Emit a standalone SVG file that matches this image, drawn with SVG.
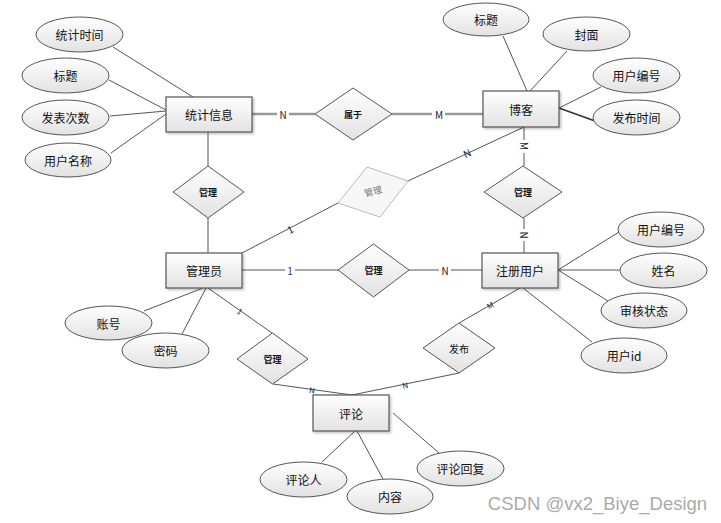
<svg xmlns="http://www.w3.org/2000/svg" width="721" height="523" viewBox="0 0 721 523">
<defs>
<linearGradient id="g" x1="0" y1="0" x2="0" y2="1">
<stop offset="0" stop-color="#ffffff"/>
<stop offset="1" stop-color="#e2e2e2"/>
</linearGradient>
<filter id="sh" x="-10%" y="-10%" width="130%" height="140%">
<feDropShadow dx="1.5" dy="1.5" stdDeviation="1" flood-color="#000" flood-opacity="0.25"/>
</filter>
</defs>
<style>
.ent rect{fill:url(#g);stroke:#555;stroke-width:1.2;filter:url(#sh)}
.att ellipse{fill:url(#g);stroke:#555;stroke-width:1}
.rel polygon{fill:url(#g);stroke:#555;stroke-width:1}
text{font-family:"Noto Sans CJK SC","Liberation Sans",sans-serif;fill:#111;text-anchor:middle;dominant-baseline:central}
.t{font-size:12px}
.r{font-size:9px;font-weight:bold}
.l{font-size:10px;fill:#222}
.c line,.c polyline{stroke:#555;stroke-width:1;fill:none}
.c .thick{stroke:#999;stroke-width:2.5}
</style>
<rect width="721" height="523" fill="#fff"/>
<g id="connectors" class="c">
<line x1="113" y1="47" x2="193" y2="97"/>
<line x1="109" y1="80" x2="166" y2="110"/>
<line x1="110" y1="116" x2="166" y2="111"/>
<line x1="111" y1="153" x2="166" y2="114"/>
<line class="thick" x1="252" y1="114" x2="315" y2="114"/>
<line class="thick" x1="392" y1="114" x2="483" y2="114"/>
<line x1="208" y1="132" x2="208" y2="166"/>
<line x1="208" y1="218" x2="208" y2="253"/>
<line x1="503" y1="36" x2="527" y2="91"/>
<line x1="567" y1="51" x2="530" y2="91"/>
<line x1="601" y1="87" x2="559" y2="108"/>
<line x1="559" y1="108" x2="595" y2="121" style="stroke-width:1.5;stroke:#333"/>
<line x1="524" y1="127" x2="524" y2="166"/>
<line x1="524" y1="218" x2="524" y2="253"/>
<line x1="524" y1="127" x2="408" y2="181"/>
<line x1="338" y1="203" x2="242" y2="253"/>
<line x1="242" y1="270" x2="338" y2="270"/>
<line x1="409" y1="270" x2="482" y2="270"/>
<line x1="558" y1="270" x2="619" y2="232"/>
<line x1="558" y1="270" x2="620" y2="270"/>
<line x1="558" y1="270" x2="608" y2="301"/>
<line x1="523" y1="288" x2="592" y2="342"/>
<line x1="520" y1="288" x2="459" y2="323"/>
<polyline points="459,373 352,395"/>
<line x1="208" y1="288" x2="272" y2="333"/>
<polyline points="273,384 352,395"/>
<line x1="203" y1="288" x2="144" y2="311"/>
<line x1="206" y1="288" x2="182" y2="334"/>
<line x1="355" y1="431" x2="322" y2="462"/>
<line x1="357" y1="431" x2="383" y2="479"/>
<line x1="393" y1="413" x2="439" y2="453"/>
<g font-size="10">
<rect x="277" y="108" width="12" height="12" fill="#fff"/>
<text x="283" y="114" class="l">N</text>
<rect x="432" y="108" width="13" height="12" fill="#fff"/>
<text x="439" y="114" class="l">M</text>
<rect x="518" y="140" width="12" height="13" fill="#fff"/>
<text x="524" y="146" class="l" transform="rotate(90 524 146)">M</text>
<rect x="518" y="229" width="12" height="12" fill="#fff"/>
<text x="524" y="235" class="l" transform="rotate(90 524 235)">N</text>
<text x="467" y="153" class="l" transform="rotate(-25 467 153)">N</text>
<text x="290" y="229" class="l" transform="rotate(-27 290 229)">1</text>
<rect x="285" y="264" width="10" height="12" fill="#fff"/>
<text x="290" y="270" class="l" style="fill:#1a3c8a">1</text>
<rect x="439" y="264" width="12" height="12" fill="#fff"/>
<text x="445" y="270" class="l">N</text>
<text x="490" y="305" class="l" style="font-size:8px" transform="rotate(-30 490 305)">M</text>
<text x="405" y="385" class="l" style="font-size:8px" transform="rotate(-12 405 385)">N</text>
<text x="240" y="311" class="l" style="font-size:8px" transform="rotate(35 240 311)">1</text>
<text x="312" y="390" class="l" style="font-size:8px" transform="rotate(8 312 390)">N</text>
</g>
</g>
<g id="tongji" class="ent"><rect x="166" y="97" width="86" height="35"/><text x="209" y="114.5" class="t">统计信息</text></g>
<g id="boke" class="ent"><rect x="483" y="91" width="76" height="36"/><text x="521" y="109" class="t">博客</text></g>
<g id="guanliyuan" class="ent"><rect x="166" y="253" width="76" height="35"/><text x="204" y="270.5" class="t">管理员</text></g>
<g id="zhuce" class="ent"><rect x="482" y="253" width="76" height="35"/><text x="520" y="270.5" class="t">注册用户</text></g>
<g id="pinglun" class="ent"><rect x="313" y="395" width="76" height="36"/><text x="351" y="413" class="t">评论</text></g>
<g id="a-tjsj" class="att"><ellipse cx="79.5" cy="34.5" rx="43.5" ry="17.5"/><text x="79.5" y="34.5" class="t">统计时间</text></g>
<g id="a-bt1" class="att"><ellipse cx="65.5" cy="75.5" rx="43.5" ry="17.5"/><text x="65.5" y="75.5" class="t">标题</text></g>
<g id="a-fbcs" class="att"><ellipse cx="65.5" cy="117.5" rx="43.5" ry="17.5"/><text x="65.5" y="117.5" class="t">发表次数</text></g>
<g id="a-yhmc" class="att"><ellipse cx="68" cy="160" rx="43" ry="17"/><text x="68" y="160" class="t">用户名称</text></g>
<g id="a-bt2" class="att"><ellipse cx="486" cy="19.5" rx="43" ry="16.5"/><text x="486" y="19.5" class="t">标题</text></g>
<g id="a-fm" class="att"><ellipse cx="586.5" cy="34" rx="43.5" ry="17"/><text x="586.5" y="34" class="t">封面</text></g>
<g id="a-yhbh1" class="att"><ellipse cx="636.5" cy="75.5" rx="43.5" ry="17.5"/><text x="636.5" y="75.5" class="t">用户编号</text></g>
<g id="a-fbsj" class="att"><ellipse cx="636.5" cy="117.5" rx="43.5" ry="17.5"/><text x="636.5" y="117.5" class="t">发布时间</text></g>
<g id="a-yhbh2" class="att"><ellipse cx="661" cy="229.5" rx="43" ry="17.5"/><text x="661" y="229.5" class="t">用户编号</text></g>
<g id="a-xm" class="att"><ellipse cx="663.5" cy="270.5" rx="43.5" ry="17.5"/><text x="663.5" y="270.5" class="t">姓名</text></g>
<g id="a-shzt" class="att"><ellipse cx="644" cy="310.5" rx="43" ry="17.5"/><text x="644" y="310.5" class="t">审核状态</text></g>
<g id="a-yhid" class="att"><ellipse cx="624" cy="355.5" rx="43" ry="17.5"/><text x="624" y="355.5" class="t">用户id</text></g>
<g id="a-zh" class="att"><ellipse cx="108.5" cy="323" rx="43.5" ry="17"/><text x="108.5" y="323" class="t">账号</text></g>
<g id="a-mm" class="att"><ellipse cx="165.5" cy="350.5" rx="43.5" ry="17.5"/><text x="165.5" y="350.5" class="t">密码</text></g>
<g id="a-plr" class="att"><ellipse cx="303.5" cy="479.5" rx="43.5" ry="17.5"/><text x="303.5" y="479.5" class="t">评论人</text></g>
<g id="a-nr" class="att"><ellipse cx="390" cy="496.5" rx="43" ry="17.5"/><text x="390" y="496.5" class="t">内容</text></g>
<g id="a-plhf" class="att"><ellipse cx="460.5" cy="468.5" rx="43.5" ry="17.5"/><text x="460.5" y="468.5" class="t">评论回复</text></g>
<g id="r-shuyu" class="rel"><polygon points="315,114 353,88 392,114 353,140"/><text x="353" y="114" class="r">属于</text></g>
<g id="r-guanli1" class="rel"><polygon points="173,192 208,166 244,192 208,218"/><text x="208" y="192" class="r">管理</text></g>
<g id="r-guanli2" class="rel"><polygon points="484,192 523,166 562,192 523,218"/><text x="523" y="192" class="r">管理</text></g>
<g id="r-guanli3" class="rel"><polygon points="367,167 408,181 380,217 338,203" style="stroke:#bbb;fill:#f7f7f7"/><text x="373" y="191" class="r" style="fill:#777;font-weight:normal" transform="rotate(-15 373 191)">管理</text></g>
<g id="r-guanli4" class="rel"><polygon points="338,270 373.5,244 409,270 373.5,297"/><text x="373.5" y="270" class="r">管理</text></g>
<g id="r-fabu" class="rel"><polygon points="423,348 459,323 495,348 459,373"/><text x="459" y="348" class="r" style="font-weight:normal;font-size:10px">发布</text></g>
<g id="r-guanli5" class="rel"><polygon points="237,359 272.5,333 308,359 272.5,384"/><text x="272.5" y="359" class="r">管理</text></g>
<text x="597.5" y="503" style="font-family:'Liberation Sans',sans-serif;font-size:18.5px;fill:#aaa">CSDN @vx2_Biye_Design</text>
</svg>
